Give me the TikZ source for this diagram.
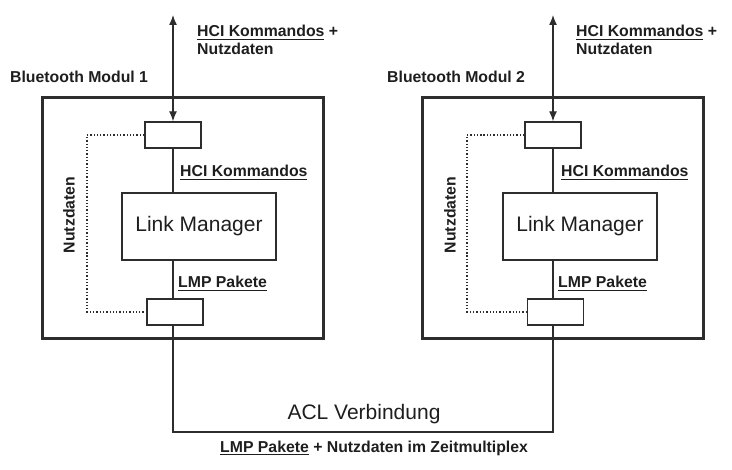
\documentclass[tikz,border=0pt]{standalone}
\usepackage{fontspec}
\setmainfont{Liberation Sans}
\usetikzlibrary{arrows.meta}
\definecolor{ink}{RGB}{30,30,30}
\definecolor{lineink}{RGB}{45,45,45}
\newcommand\ulx[1]{\vtop{\hbox{#1}\kern2bp\hrule height 1.3bp}}
\tikzset{
  lbl/.style={inner sep=0pt, anchor=base west, text=ink, font=\bfseries\fontsize{15.8bp}{18bp}\selectfont},
  big/.style={inner sep=0pt, text=ink, font=\fontsize{21bp}{24bp}\selectfont},
  modul/.style={draw=lineink, line width=3bp, minimum width=280bp, minimum height=240bp, inner sep=0pt},
  port/.style={draw=lineink, line width=1.4bp, minimum width=56bp, minimum height=26bp, inner sep=0pt},
  lmbox/.style={draw=lineink, line width=1.4bp, minimum width=154bp, minimum height=67bp, inner sep=0pt},
  conn/.style={draw=lineink, line width=1.3bp},
  dotconn/.style={draw=lineink, line width=1.3bp, dotted},
  biarrow/.style={conn, {Latex[length=10bp,width=8bp]}-{Latex[length=10bp,width=8bp]}}
}
\begin{document}
\begin{tikzpicture}[x=1bp, y=-1bp]
\useasboundingbox (0,0) rectangle (732,470);
% Module 1
\node[modul] (m1) at (183,218) {};
\node[port] (t1) at (173,135) {};
\node[lmbox] (lm1) at (199,226.5) {};
\node[port] (b1) at (175,312) {};
\node[big, anchor=center] (lmt1) at (199,226) {Link Manager};
\coordinate (a1) at (173,15);
\draw[biarrow] (a1) -- (t1.north -| a1);
\draw[conn] (t1.south -| a1) -- (lm1.north -| a1);
\draw[conn] (lm1.south -| a1) -- (b1.north -| a1);
\coordinate (d1) at (87,0);
\draw[dotconn] (t1.west) -- (t1.west -| d1) -- (b1.west -| d1) -- (b1.west);
% Module 2
\node[modul, minimum width=281bp] (m2) at (562.5,218) {};
\node[port] (t2) at (553,135) {};
\node[lmbox] (lm2) at (580,226.5) {};
\node[port] (b2) at (555.5,312) {};
\node[big, anchor=center] (lmt2) at (580,226) {Link Manager};
\coordinate (a2) at (553,15);
\draw[biarrow] (a2) -- (t2.north -| a2);
\draw[conn] (t2.south -| a2) -- (lm2.north -| a2);
\draw[conn] (lm2.south -| a2) -- (b2.north -| a2);
\coordinate (d2) at (467,0);
\draw[dotconn] (t2.west) -- (t2.west -| d2) -- (b2.west -| d2) -- (b2.west);
% ACL link
\coordinate (acl) at (0,432);
\draw[conn] (b1.south -| a1) -- (acl -| a1) -- (acl -| a2) -- (b2.south -| a2);
% Labels module 1
\node[lbl] (h1a) at (197,37) {\ulx{HCI Kommandos} +};
\node[lbl] (h1b) at (197,55) {Nutzdaten};
\node[lbl] (bm1) at (10,83) {Bluetooth Modul 1};
\node[lbl] (hk1) at (180,177) {\ulx{HCI Kommandos}};
\node[lbl] (lp1) at (178,288) {\ulx{LMP Pakete}};
\node[lbl, anchor=center, rotate=90] (nd1) at (69,215) {Nutzdaten};
% Labels module 2
\node[lbl] (h2a) at (576,37) {\ulx{HCI Kommandos} +};
\node[lbl] (h2b) at (576,55) {Nutzdaten};
\node[lbl] (bm2) at (387,83) {Bluetooth Modul 2};
\node[lbl] (hk2) at (561,177) {\ulx{HCI Kommandos}};
\node[lbl] (lp2) at (558,288) {\ulx{LMP Pakete}};
\node[lbl, anchor=center, rotate=90] (nd2) at (450,215) {Nutzdaten};
% Bottom labels
\node[big, anchor=base] (aclt) at (364,419) {ACL Verbindung};
\node[lbl] (bot) at (220,452) {\ulx{LMP Pakete} + Nutzdaten im Zeitmultiplex};
\end{tikzpicture}
\end{document}
